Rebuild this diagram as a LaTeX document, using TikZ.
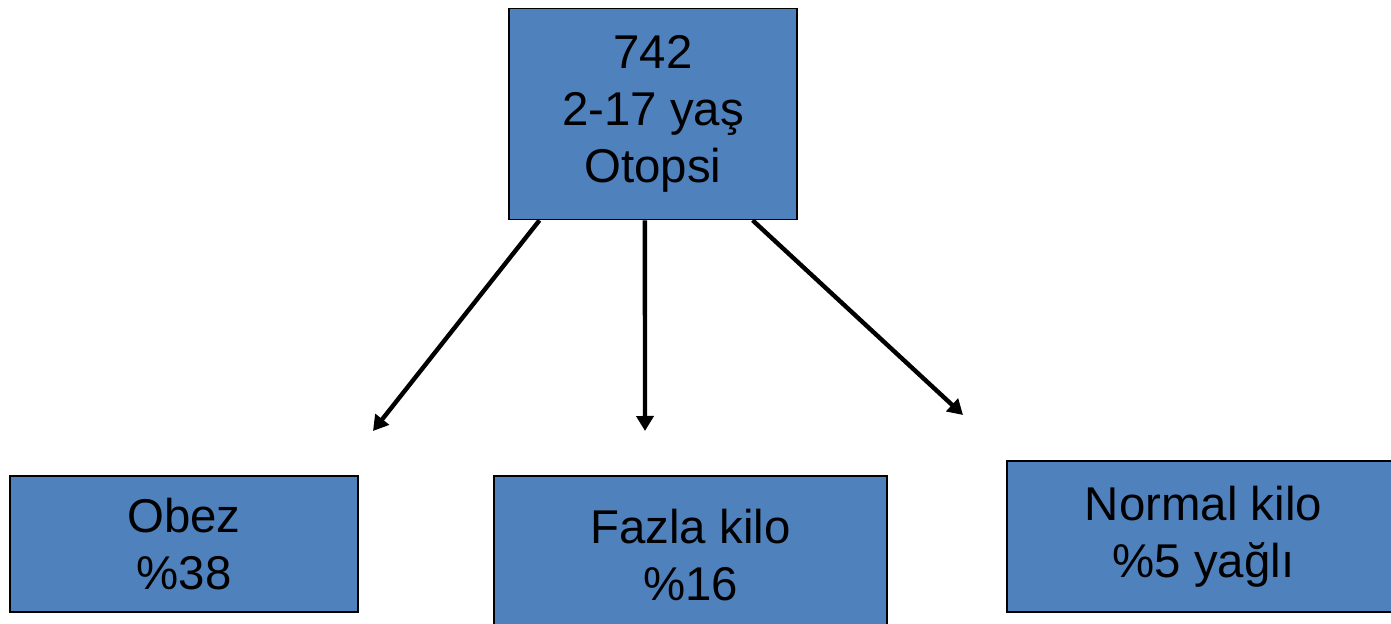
\documentclass[tikz,border=0pt]{standalone}
\usepackage{fontspec}
\setmainfont{Liberation Sans}
\usetikzlibrary{arrows.meta,calc}
\definecolor{boxblue}{HTML}{4F81BD}
\begin{document}
\begin{tikzpicture}[x=0.5pt,y=-0.5pt,
  box/.style={draw=black,line width=0.8pt,fill=boxblue,align=center,inner sep=0pt,
    font=\fontsize{23.7}{28.5}\selectfont},
  link/.style={line width=2.2pt,-{Triangle[length=7.5pt,width=8.5pt]}}]
\useasboundingbox (0,0) rectangle (1391,624);
\clip (0,0) rectangle (1391,624);
% source box
\node[box,minimum width=144pt,minimum height=105.5pt] (top) at (653,114)
  {742\ \\2-17 yaş\\Otopsi};
% result boxes
\node[box,minimum width=174pt,minimum height=68pt] (obez) at (184,544)
  {Obez\\\%38};
\node[box,minimum width=196.5pt,minimum height=79pt] (fazla) at (690.5,555)
  {Fazla kilo\\\%16};
\node[box,minimum width=196.5pt,minimum height=75.5pt] (normal) at (1203.5,536.5)
  {Normal kilo\\\%5 yağlı};
% arrow tips
\coordinate (tipA) at (373,431);
\coordinate (tipB) at (645,431);
\coordinate (tipC) at (963,415);
\draw[link] ($(top.south west)!0.108!(top.south east)$) -- (tipA);
\draw[link] ($(top.south west)!0.472!(top.south east)$) -- (tipB);
\draw[link] ($(top.south west)!0.844!(top.south east)$) -- (tipC);
\end{tikzpicture}
\end{document}
